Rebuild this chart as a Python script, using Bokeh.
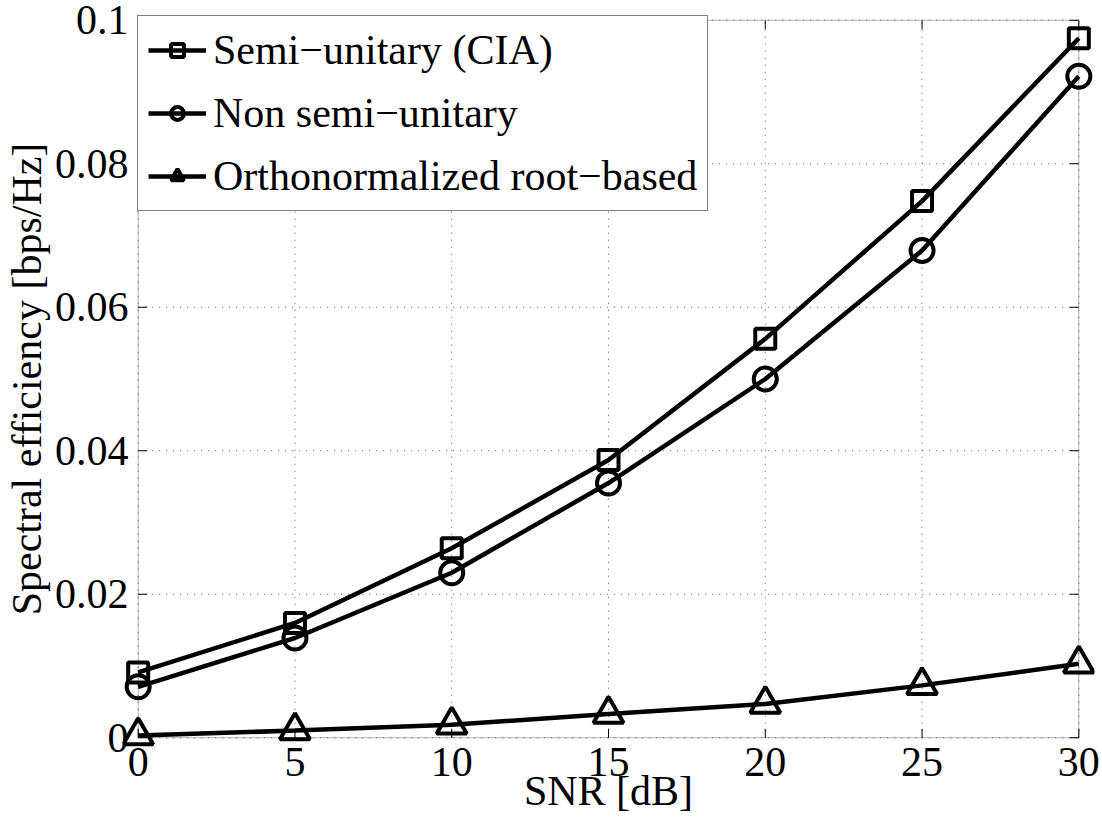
from bokeh.plotting import figure
from bokeh.models import Range1d, FixedTicker, Legend, LegendItem, BoxAnnotation
from bokeh.embed import file_html
from bokeh.resources import INLINE

# ---- data ----
snr_db = [0, 5, 10, 15, 20, 25, 30]
semi_unitary = [0.0091, 0.0160, 0.0264, 0.0387, 0.0556, 0.0748, 0.0975]
non_semi_unitary = [0.0071, 0.0139, 0.0230, 0.0355, 0.0500, 0.0679, 0.0922]
ortho_root = [0.0003, 0.0010, 0.0018, 0.0033, 0.0047, 0.0073, 0.0103]

x_lim = [0, 30]
y_lim = [0, 0.1]
x_ticks = [0, 5, 10, 15, 20, 25, 30]
y_ticks = [0, 0.02, 0.04, 0.06, 0.08, 0.1]
y_tick_labels = ["0", "0.02", "0.04", "0.06", "0.08", "0.1"]
series_names = ["Semi\u2212unitary (CIA)", "Non semi\u2212unitary", "Orthonormalized root\u2212based"]
x_title = "SNR [dB]"
y_title = "Spectral efficiency [bps/Hz]"

FONT = "Liberation Serif"
FS = "42px"

W, H = 1100, 823
BL, BR, BT, BB = 122, 6, 9, 75
# the frame is padded around the axes box so that edge markers are not clipped
XPAD = 0.5
YPAD = 0.0015
px_x = (W - BL - BR) / (x_lim[1] - x_lim[0] + 2 * XPAD)
px_y = (H - BT - BB) / (y_lim[1] - y_lim[0] + 2 * YPAD)

p = figure(width=W, height=H, output_backend="svg", toolbar_location=None,
           x_range=Range1d(x_lim[0] - XPAD, x_lim[1] + XPAD),
           y_range=Range1d(y_lim[0] - YPAD, y_lim[1] + YPAD),
           min_border_left=BL, min_border_right=BR, min_border_top=BT, min_border_bottom=BB)
p.background_fill_color = "white"
p.border_fill_color = "white"
p.outline_line_color = None
p.xgrid.visible = False
p.ygrid.visible = False

for ax in (p.xaxis[0], p.yaxis[0]):
    ax.major_label_text_font = FONT
    ax.major_label_text_font_size = FS
    ax.axis_label_text_font = FONT
    ax.axis_label_text_font_size = FS
    ax.axis_label_text_font_style = "normal"
    ax.axis_label_text_color = "black"
    ax.major_label_text_color = "black"
    ax.major_tick_in = 0
    ax.major_tick_out = 0
    ax.minor_tick_line_color = None
    ax.major_tick_line_color = None
    ax.axis_line_color = None

p.xaxis.ticker = FixedTicker(ticks=x_ticks)
p.yaxis.ticker = FixedTicker(ticks=y_ticks)
p.yaxis.major_label_overrides = {t: l for t, l in zip(y_ticks, y_tick_labels)}
p.xaxis.axis_label = x_title
p.yaxis.axis_label = y_title
p.xaxis.major_label_standoff = -1
p.xaxis.axis_label_standoff = -11
p.yaxis.major_label_standoff = -6
p.yaxis.axis_label_standoff = 2

n_x, n_y = len(x_ticks), len(y_ticks)
# dotted grid inside the axes box
p.segment(x0=x_ticks, y0=[y_lim[0]] * n_x, x1=x_ticks, y1=[y_lim[1]] * n_x,
          line_color="#555555", line_dash="1 6", line_width=1)
p.segment(x0=[x_lim[0]] * n_y, y0=y_ticks, x1=[x_lim[1]] * n_y, y1=y_ticks,
          line_color="#555555", line_dash="1 6", line_width=1)

# axes box with inward ticks on all four sides
TICK = 9  # px
tx = TICK / px_x
ty = TICK / px_y
p.segment(x0=x_ticks, y0=[y_lim[0]] * n_x, x1=x_ticks, y1=[y_lim[0] + ty] * n_x,
          line_color="black", line_width=1)
p.segment(x0=x_ticks, y0=[y_lim[1]] * n_x, x1=x_ticks, y1=[y_lim[1] - ty] * n_x,
          line_color="black", line_width=1)
p.segment(x0=[x_lim[0]] * n_y, y0=y_ticks, x1=[x_lim[0] + tx] * n_y, y1=y_ticks,
          line_color="black", line_width=1)
p.segment(x0=[x_lim[1]] * n_y, y0=y_ticks, x1=[x_lim[1] - tx] * n_y, y1=y_ticks,
          line_color="black", line_width=1)
p.add_layout(BoxAnnotation(left=x_lim[0], right=x_lim[1], bottom=y_lim[0], top=y_lim[1],
                           fill_alpha=0, line_color="black", line_width=1, level="underlay"))

LW = 4.5
MLW = 4
l1 = p.line(snr_db, semi_unitary, line_color="black", line_width=LW)
m1 = p.scatter(snr_db, semi_unitary, marker="square", size=20, line_color="black",
               line_width=MLW, fill_alpha=0)
l2 = p.line(snr_db, non_semi_unitary, line_color="black", line_width=LW)
m2 = p.scatter(snr_db, non_semi_unitary, marker="circle", size=23, line_color="black",
               line_width=MLW, fill_alpha=0)
l3 = p.line(snr_db, ortho_root, line_color="black", line_width=LW)
m3 = p.scatter(snr_db, ortho_root, marker="triangle", size=30, line_color="black",
               line_width=MLW, fill_alpha=0)

items = [LegendItem(label=series_names[0], renderers=[l1, m1]),
         LegendItem(label=series_names[1], renderers=[l2, m2]),
         LegendItem(label=series_names[2], renderers=[l3, m3])]
legend = Legend(items=items, location=(int(round(XPAD * px_x)) - 1, 537), margin=0,
                padding=10, spacing=15, glyph_width=58, glyph_height=32, label_standoff=7,
                label_text_font=FONT, label_text_font_size=FS, label_text_color="black",
                border_line_color="black", border_line_width=1,
                background_fill_color="white", background_fill_alpha=1)
p.add_layout(legend, "center")

open("out.html", "w").write(file_html(p, INLINE))
